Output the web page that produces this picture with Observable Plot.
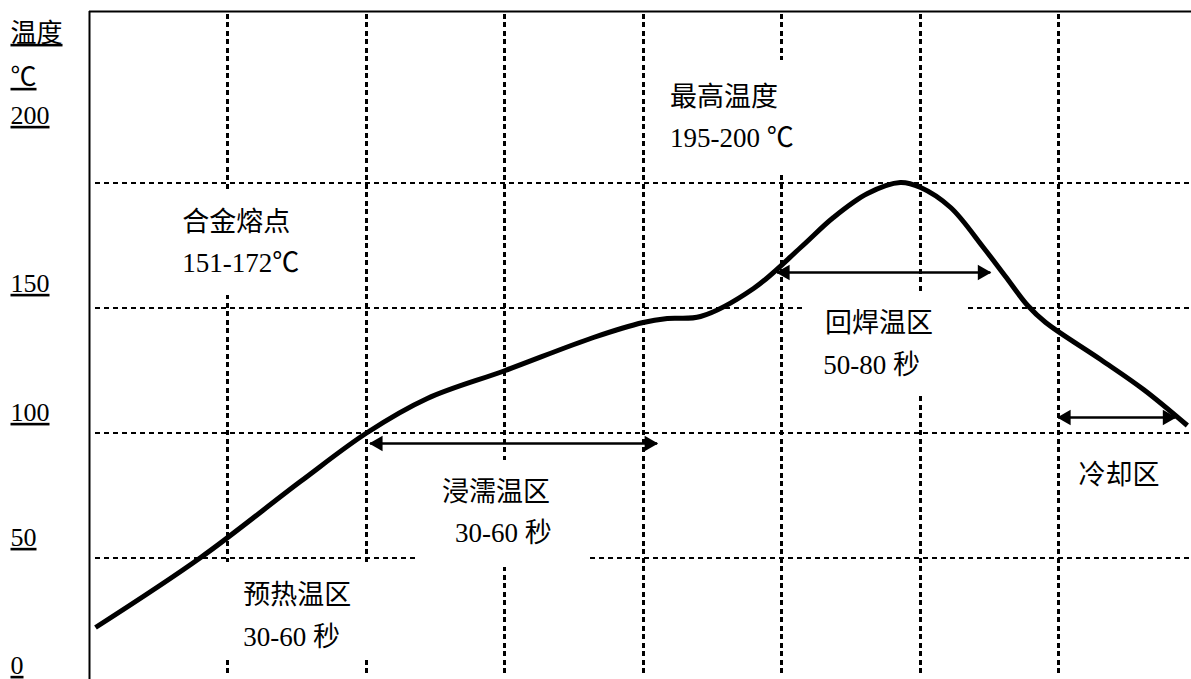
<!DOCTYPE html>
<html>
<head>
<meta charset="utf-8">
<script src="https://cdn.jsdelivr.net/npm/d3@7"></script>
<script src="https://cdn.jsdelivr.net/npm/@observablehq/plot@0.6"></script>
<style>
  body { margin: 0; background: #fff; }
  #chart svg { display: block; }
</style>
</head>
<body>
<div id="chart"></div>
<script>
// ---- data (time in seconds, 30 s per grid division; temperature in °C) ----
const timeS = [1.3, 24.1, 45.7, 60.2, 73.2, 90.1, 109.2, 120.0, 125.2, 132.4, 143.9, 154.1, 161.2, 168.6, 175.7, 180.1, 186.6, 193.7, 198.5, 203.3, 207.2, 219.1, 228.4, 237.9];
const tempC = [22, 50, 80.4, 100, 113.6, 124.8, 138, 144, 145.6, 146.4, 157.6, 174, 186, 195.6, 200, 198, 190, 174, 162.4, 150.8, 144, 129.2, 117.2, 102.8];

const gridTimes = [30, 60, 90, 120, 150, 180, 210];
const gridTemps = [50, 100, 150, 200];

const axisLabels = ["温度", "℃", "200", "150", "100", "50", "0"];
const axisLabelTemps = [259.6, 242, 226.8, 159.6, 108, 58, 6.8];

const noteTexts = ["合金熔点", "151-172℃", "最高温度", "195-200 ℃", "回焊温区", "50-80 秒", "浸濡温区", "30-60 秒", "预热温区", "30-60 秒", "冷却区"];
const noteTimes = [20.1, 20.1, 125.8, 125.8, 159.4, 159.0, 76.4, 79.2, 33.3, 33.3, 214.3];
const noteTemps = [184, 167.6, 234, 217.6, 143.6, 126.8, 76, 59.6, 34.8, 18, 82.8];

// white text-box backgrounds of the annotations (they interrupt the grid)
const boxT1 = [16.4, 121.9, 154.7, 71.2, 27.9];
const boxT2 = [47.8, 155.1, 190.2, 107.8, 63.0];
const boxC1 = [154.8, 204, 114.4, 46, 8.8];
const boxC2 = [196.8, 248.8, 156, 88.8, 48];

// double-headed arrows (zones)
const arrowT1 = [60.8, 149.0, 209.9];
const arrowT2 = [123.0, 195.2, 235.3];
const arrowC = [95.6, 164, 106];

// ---- tables built from the arrays ----
const profile = timeS.map((t, i) => ({t, c: tempC[i]}));
const axisRows = axisLabels.map((label, i) => ({label, c: axisLabelTemps[i]}));
const notes = noteTexts.map((text, i) => ({text, t: noteTimes[i], c: noteTemps[i]}));
const boxes = boxT1.map((t1, i) => ({t1, t2: boxT2[i], c1: boxC1[i], c2: boxC2[i]}));
const arrows = arrowT1.map((t1, i) => ({t1, t2: arrowT2[i], c: arrowC[i]}));

const FONT = "'Liberation Serif', 'Noto Sans CJK SC', serif";
const X_MAX = 238.8, Y_MIN = 1.2, Y_MAX = 268.4;

const plot = Plot.plot({
  width: 1191,
  height: 679,
  marginLeft: 89,
  marginRight: 0,
  marginTop: 11,
  marginBottom: 0,
  style: {background: "#fff"},
  x: {domain: [0, X_MAX], axis: null},
  y: {domain: [Y_MIN, Y_MAX], axis: null},
  marks: [
    Plot.ruleY(gridTemps, {x1: 1.2, x2: X_MAX, stroke: "#000", strokeWidth: 2, strokeDasharray: "5,4", shapeRendering: "crispEdges"}),
    Plot.ruleX(gridTimes, {y1: 3.6, y2: 267.6, stroke: "#000", strokeWidth: 3, strokeDasharray: "5,3.5", shapeRendering: "crispEdges"}),
    Plot.rect(boxes, {x1: "t1", x2: "t2", y1: "c1", y2: "c2", fill: "#fff"}),
    Plot.ruleX([0], {stroke: "#000", strokeWidth: 2}),
    Plot.ruleY([Y_MAX], {stroke: "#000", strokeWidth: 2}),
    Plot.line(profile, {x: "t", y: "c", curve: "catmull-rom", stroke: "#000", strokeWidth: 5, strokeLinecap: "butt"}),
    Plot.link(arrows, {x1: "t1", x2: "t2", y1: "c", y2: "c", stroke: "#000", strokeWidth: 2.5}),
    Plot.dot(arrows, {x: "t1", y: "c", symbol: "triangle", r: 5.8, fill: "#000", stroke: null, rotate: -90, dx: 8}),
    Plot.dot(arrows, {x: "t2", y: "c", symbol: "triangle", r: 5.8, fill: "#000", stroke: null, rotate: 90, dx: -8}),
    Plot.text(notes, {x: "t", y: "c", text: "text", textAnchor: "start", fontSize: 27, fontFamily: FONT, fill: "#000"}),
    Plot.text(axisRows, {y: "c", text: "label", frameAnchor: "left", dx: -79, textAnchor: "start", fontSize: 26, fontFamily: FONT, fill: "#000", ariaDescription: "ylabels"})
  ]
});

d3.select(plot).selectAll('g[aria-description="ylabels"] text').style("text-decoration", "underline");
document.getElementById("chart").appendChild(plot);
</script>
</body>
</html>
